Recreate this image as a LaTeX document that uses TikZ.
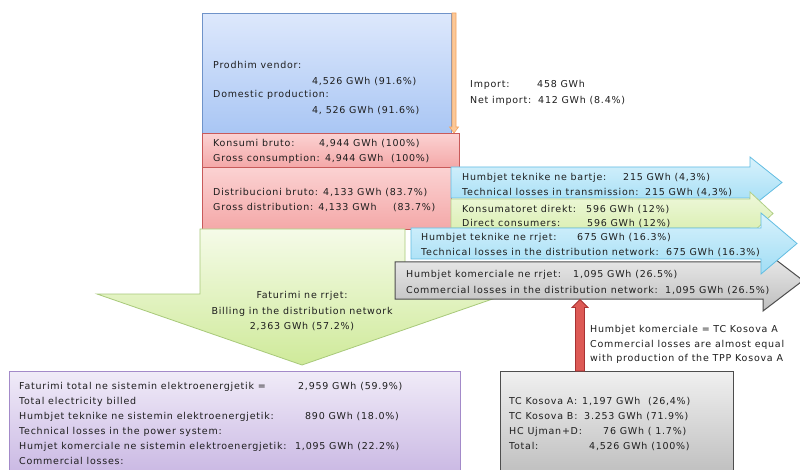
\documentclass[tikz,border=0pt]{standalone}
\usepackage{fontspec}
\setmainfont{DejaVu Sans}[LetterSpace=8]
\usetikzlibrary{calc}
\definecolor{txtc}{HTML}{1E1E1E}
\definecolor{blueT}{HTML}{DDE8FC}\definecolor{blueB}{HTML}{A9C6F4}\definecolor{blueD}{HTML}{6F93C9}
\definecolor{pinkT}{HTML}{FBD2D2}\definecolor{pinkB}{HTML}{F4A8A8}\definecolor{pinkD}{HTML}{C85A5A}
\definecolor{cyanT}{HTML}{D9F2FC}\definecolor{cyanB}{HTML}{A0DDF5}\definecolor{cyanD}{HTML}{62BDE2}
\definecolor{grnT}{HTML}{EEF8DC}\definecolor{grnB}{HTML}{D9EEAE}\definecolor{grnD}{HTML}{B2CF86}
\definecolor{bgrT}{HTML}{F5FBE8}\definecolor{bgrB}{HTML}{CFEA9A}\definecolor{bgrD}{HTML}{A8C97A}
\definecolor{gryT}{HTML}{EEEEEE}\definecolor{gryB}{HTML}{BEBEBE}\definecolor{gryD}{HTML}{4D4D4D}
\definecolor{purT}{HTML}{F0EBF8}\definecolor{purB}{HTML}{C9B7E3}\definecolor{purD}{HTML}{A38AC9}
\definecolor{oraF}{HTML}{FBC898}\definecolor{oraD}{HTML}{F4A460}
\definecolor{redF}{HTML}{DD5A55}\definecolor{redD}{HTML}{A83232}
\begin{document}
\begin{tikzpicture}[x=1pt,y=-1pt,
  font=\fontsize{9.5}{15}\selectfont,
  txt/.style={anchor=base west, inner sep=0pt, text=txtc},
  ctxt/.style={anchor=base, inner sep=0pt, text=txtc},
  boxbase/.style={anchor=north west, inner sep=0pt, line width=0.8pt},
  bluebox/.style={boxbase, top color=blueT, bottom color=blueB, draw=blueD},
  pinkbox/.style={boxbase, top color=pinkT, bottom color=pinkB, draw=pinkD},
  purbox/.style={boxbase, top color=purT, bottom color=purB, draw=purD},
  grybox/.style={boxbase, top color=gryT!90!white, bottom color=gryB, draw=gryD, line width=1pt},
  cyanarr/.style={top color=cyanT, bottom color=cyanB, draw=cyanD, line width=0.8pt},
  grnarr/.style={top color=grnT, bottom color=grnB, draw=grnD, line width=0.8pt},
  biggrn/.style={top color=bgrT, bottom color=bgrB, draw=bgrD, line width=0.8pt},
  gryarr/.style={top color=gryT, bottom color=gryB, draw=gryD, line width=1pt},
  orabar/.style={fill=oraF, draw=oraD, line width=0.6pt},
  redarr/.style={fill=redF, draw=redD, line width=0.8pt}
]
\useasboundingbox (0,0) rectangle (800,470);
\clip (0,0) rectangle (800,470);
\fill[white] (0,0) rectangle (800,470);

% boxes top
\node[bluebox, minimum width=249pt, minimum height=120pt] (dom) at (202,13) {};
\path[orabar] (452,13) -- (456,13) -- (456,127) -- (458.5,127) -- (454,133) -- (449.5,127) -- (452,127) -- cycle;
\node[pinkbox, minimum width=257pt, minimum height=34pt] (gross) at (202,133) {};
\node[pinkbox, minimum width=249pt, minimum height=62pt] (dist) at (202,167) {};

% flow arrows
\path[cyanarr] (451,167) -- (750,167) -- (750,157) -- (782,182.5) -- (750,208) -- (750,198) -- (451,198) -- cycle;
\path[grnarr] (451,199) -- (750,199) -- (750,192) -- (773,213.5) -- (750,235) -- (750,228) -- (451,228) -- cycle;
\path[biggrn] (200,229) -- (405,229) -- (405,294) -- (507,294) -- (302,365) -- (97,294) -- (200,294) -- cycle;
\path[gryarr] (395,262) -- (763,262) -- (763,250) -- (803,280.5) -- (763,311) -- (763,299) -- (395,299) -- cycle;
\coordinate (comm) at (580,299.5);
\path[cyanarr] (411,228) -- (761,228) -- (761,213) -- (797,243.5) -- (761,274) -- (761,259) -- (411,259) -- cycle;

% bottom boxes
\node[purbox, minimum width=451pt, minimum height=105pt] (tot) at (9,371) {};
\node[grybox, minimum width=233pt, minimum height=105pt] (src) at (500,371) {};

% red arrow
\coordinate (rbot) at (src.north -| comm);
\path[redarr] ($(rbot)+(-4.5,0)$) -- ($(comm)+(-4.5,8)$) -- ($(comm)+(-8,8)$) -- (comm)
  -- ($(comm)+(8,8)$) -- ($(comm)+(4.5,8)$) -- ($(rbot)+(4.5,0)$) -- cycle;

% texts: domestic production
\node[txt] (t1) at (213,69) {Prodhim vendor:};
\node[txt] (t2) at (312,85) {4,526 GWh (91.6\%)};
\node[txt] (t3) at (213,98) {Domestic production:};
\node[txt] (t4) at (312,114) {4, 526 GWh (91.6\%)};
% import
\node[txt] (i1) at (470,88) {Import:};
\node[txt] (i2) at (537,88) {458 GWh};
\node[txt] (i3) at (470,104) {Net import:};
\node[txt] (i4) at (538,104) {412 GWh (8.4\%)};
% gross consumption
\node[txt] (g1) at (213,147) {Konsumi bruto:};
\node[txt] (g2) at (319,147) {4,944 GWh (100\%)};
\node[txt] (g3) at (213,162) {Gross consumption:};
\node[txt] (g4) at (325,162) {4,944 GWh\ \ (100\%)};
% gross distribution
\node[txt] (d1) at (213,196) {Distribucioni bruto: 4,133 GWh (83.7\%)};
\node[txt] (d2) at (213,211) {Gross distribution: 4,133 GWh};
\node[txt] (d3) at (393,211) {(83.7\%)};
% transmission losses
\node[txt] (b1) at (462,181) {Humbjet teknike ne bartje:};
\node[txt] (b2) at (623,181) {215 GWh (4,3\%)};
\node[txt] (b3) at (462,196) {Technical losses in transmission:};
\node[txt] (b4) at (645,196) {215 GWh (4,3\%)};
% direct consumers
\node[txt] (c1) at (462,213) {Konsumatoret direkt:};
\node[txt] (c2) at (586,213) {596 GWh (12\%)};
\node[txt] (c3) at (462,227) {Direct consumers:};
\node[txt] (c4) at (587,227) {596 GWh (12\%)};
% technical losses distribution
\node[txt] (n1) at (421,241) {Humbjet teknike ne rrjet:};
\node[txt] (n2) at (577,241) {675 GWh (16.3\%)};
\node[txt] (n3) at (421,255) {Technical losses in the distribution network:};
\node[txt] (n4) at (666,255) {675 GWh (16.3\%)};
% commercial losses
\node[txt] (k1) at (406,277) {Humbjet komerciale ne rrjet:};
\node[txt] (k2) at (573,277) {1,095 GWh (26.5\%)};
\node[txt] (k3) at (406,293) {Commercial losses in the distribution network:};
\node[txt] (k4) at (665,293) {1,095 GWh (26.5\%)};
% billing
\node[ctxt] (f1) at (302,298.5) {Faturimi ne rrjet:};
\node[ctxt] (f2) at (302,314.5) {Billing in the distribution network};
\node[ctxt] (f3) at (302,329.5) {2,363 GWh (57.2\%)};
% note
\node[txt] (r1) at (590,332.5) {Humbjet komerciale = TC Kosova A};
\node[txt] (r2) at (590,347) {Commercial losses are almost equal};
\node[txt] (r3) at (590,361.5) {with production of the TPP Kosova A};
% totals
\node[txt] (p1) at (19,389.5) {Faturimi total ne sistemin elektroenergjetik =};
\node[txt] (p2) at (298,389.5) {2,959 GWh (59.9\%)};
\node[txt] (p3) at (19,404.5) {Total electricity billed};
\node[txt] (p4) at (19,419.5) {Humbjet teknike ne sistemin elektroenergjetik:};
\node[txt] (p5) at (305,419.5) {890 GWh (18.0\%)};
\node[txt] (p6) at (19,434.5) {Technical losses in the power system:};
\node[txt] (p7) at (19,449.5) {Humjet komerciale ne sistemin elektroenergjetik:};
\node[txt] (p8) at (295,449.5) {1,095 GWh (22.2\%)};
\node[txt] (p9) at (19,464.5) {Commercial losses:};
% production sources
\node[txt] (s1) at (509,404.5) {TC Kosova A:};
\node[txt] (s2) at (582,404.5) {1,197 GWh\ \ (26,4\%)};
\node[txt] (s3) at (509,419.5) {TC Kosova B:};
\node[txt] (s4) at (584,419.5) {3.253 GWh (71.9\%)};
\node[txt] (s5) at (509,434.5) {HC Ujman+D:};
\node[txt] (s6) at (603,434.5) {76 GWh ( 1.7\%)};
\node[txt] (s7) at (509,449.5) {Total:};
\node[txt] (s8) at (589,449.5) {4,526 GWh (100\%)};
\end{tikzpicture}
\end{document}
